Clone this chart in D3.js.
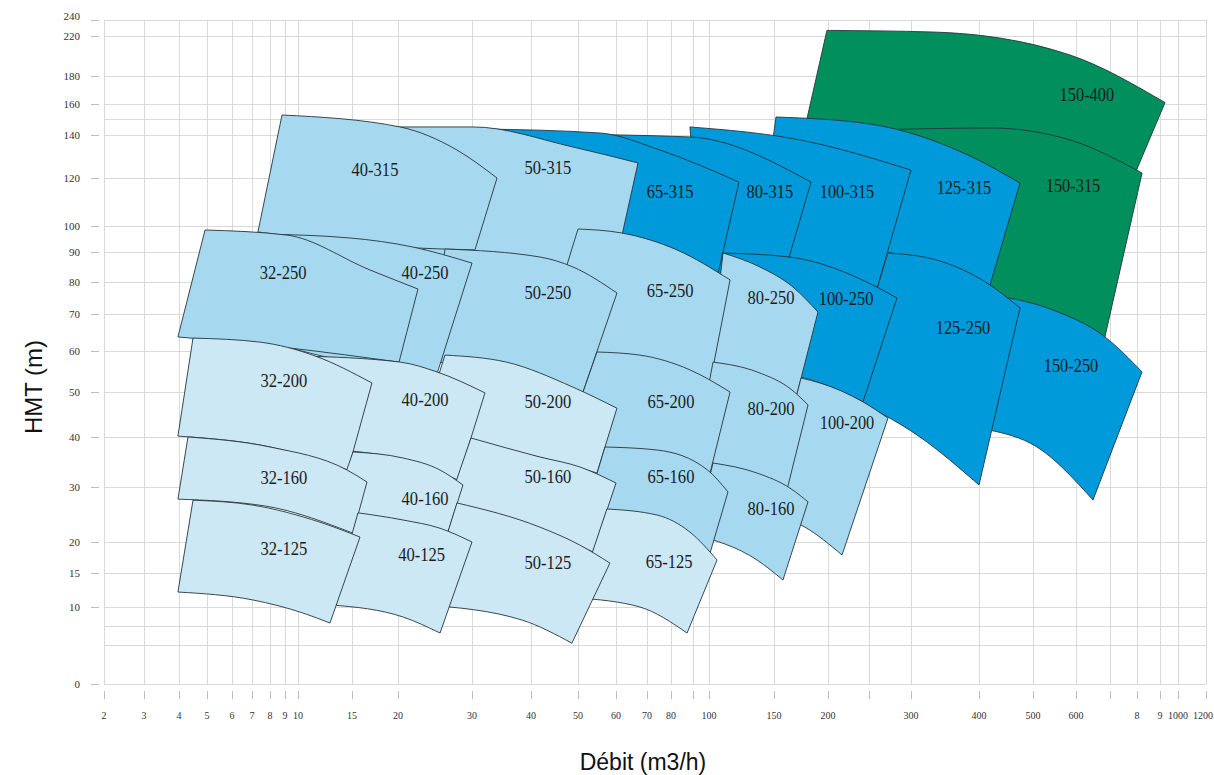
<!DOCTYPE html>
<html>
<head>
<meta charset="utf-8">
<script src="https://cdn.jsdelivr.net/npm/d3@7"></script>
<style>
  html, body { margin: 0; padding: 0; background: #ffffff; }
  svg { display: block; }
</style>
</head>
<body>
<svg id="chart" width="1214" height="775"></svg>
<script>
// ---------- axis ticks ----------
const flowTicks = [2,3,4,5,6,7,8,9,10,15,20,30,40,50,60,70,80,90,100,150,200,250,300,400,500,600,700,800,900,1000,1200];
const flowTickLabels = ["2","3","4","5","6","7","8","9","10","15","20","30","40","50","60","70","80","","100","150","200","","300","400","500","600","","8","9","1000","1200"];
const headTicks = [0,10,15,20,30,40,50,60,70,80,90,100,120,140,160,180,220,240];
const headGridExtra = [5, 7.5, 150];

// ---------- pump ranges (Q in m3/h, H in m), drawn in this order ----------
const pumpModels = [
  "150-400","150-315","125-315","100-315","80-315","65-315","50-315","40-315",
  "150-250","125-250","100-250","80-250","65-250","50-250","40-250","32-250",
  "100-200","80-200","65-200","50-200","40-200","32-200",
  "80-160","65-160","50-160","40-160","32-160",
  "65-125","50-125","40-125","32-125"
];
const pumpTier = [3,3,2,2,2,2,1,1, 2,2,2,1,1,1,1,1, 1,1,1,0,0,0, 1,1,0,0,0, 0,0,0,0];

const topCurves = [
  [[199,227],[332,225],[586,201],[928,161]],
  [[251,143.2],[422,144.5],[586,137.7],[822,122.3]],
  [[151.85,151.6],[251.2,147.1],[389.7,129.8],[475.9,117.9]],
  [[88.6,145.2],[174.1,137.7],[300,123.7]],
  [[46.2,140.5],[88.6,139.1],[184.3,118.3]],
  [[31.4,143.9],[55.8,141.3],[75.4,133],[123.1,118.3]],
  [[18.04,145.2],[30.17,145.2],[48.94,134.4],[67.1,127]],
  [[8.8,152.9],[20.27,145.2],[27.97,133],[34.24,120]],
  [[438.9,75.6],[546.5,71.25],[685.3,63.8],[821.7,54.9]],
  [[272.6,89.67],[338.2,87.3],[414.8,79.7],[475.9,71.9]],
  [[110,89.67],[164.8,88.3],[259.5,78.4],[283.3,75]],
  [[110.8,89.67],[139.2,85],[167.6,78.4],[190.7,70.6]],
  [[50,98.85],[61.9,97.3],[82.7,90.8],[116.2,80.7]],
  [[26.35,91.15],[41.9,88.33],[48.94,85],[60.32,76.56]],
  [[7.56,96.9],[14.81,95.4],[22.03,91.9],[30,86.3]],
  [[4.93,98.46],[9.15,96.5],[16.96,84],[22.7,77.8]],
  [[175,53.4],[192.6,52.2],[242.7,47.8],[272.6,44.2]],
  [[103.1,57.3],[136.9,54.9],[166.6,50.5],[181.5,47.1]],
  [[55,59.76],[67.7,59],[88.6,55.4],[116.2,50]],
  [[26.35,59],[35.8,57.3],[48.9,51.2],[60.3,46.4]],
  [[10.19,58.8],[20.27,57.3],[25.27,54.9],[32.2,49.8]],
  [[4.5,63.5],[7.44,62.4],[11.57,58.8],[17.17,52.2]],
  [[103.1,34.8],[136.9,32.8],[164.8,29.8],[181.5,27.3]],
  [[57.1,38],[74.2,37.4],[99.1,33.4],[114.6,29.1]],
  [[29.86,39.8],[41.9,36],[50.53,34],[60,30.8]],
  [[15.11,37],[20.68,35.8],[25.68,33.4],[28.78,30.4]],
  [[4.32,40],[8,38],[14.54,33.4],[16.63,31]],
  [[57.6,26],[74.2,24.9],[88.6,21.8],[106.2,17.1]],
  [[27.97,27.1],[41.9,22.7],[50.5,19.5],[58.4,16.6]],
  [[15.65,25.3],[20.68,24],[25.68,22.5],[30,20]],
  [[4.5,27.6],[7.06,26.7],[12.04,23.6],[15.87,20.9]]
];

const bottomCurves = [
  [[174,133],[357,128],[767,115]],
  [[372,78.1],[516,70.6],[683,63]],
  [[139.2,96.5],[263,90.8],[416.7,76.9]],
  [[94.4,90.8],[164.8,86.7],[257,75.6]],
  [[55.8,92.7],[108.5,80.7],[161.1,84.67]],
  [[55.8,94.6],[75.4,89],[106.9,82.7]],
  [[24.3,85.7],[43,82.3],[61.6,94.6]],
  [[7.33,97.7],[20.27,91.9],[30.5,90.8]],
  [[416.7,41.6],[509.3,38],[650,27.64]],
  [[220.7,49.3],[313.2,40],[400,30.4]],
  [[116.2,56.6],[192.6,52.2],[242.7,47.8]],
  [[100.8,56.6],[139.2,52.9],[170.4,48.7]],
  [[42.1,60.3],[71.25,57.3],[100.8,52.2]],
  [[24.3,57.3],[36.44,55.4],[51.32,50]],
  [[6.65,64.3],[14.81,57.3],[25.27,54.4]],
  [[3.97,63.8],[9.38,60.8],[20.14,57.3]],
  [[144.6,25.45],[178.7,22.7],[217.1,17.9]],
  [[90.6,34.8],[131.5,33],[162,29.45]],
  [[47,38],[73.3,37],[100.8,32.8]],
  [[22.7,39.4],[39.8,36.4],[55,32.8]],
  [[13.9,37.4],[20.95,35.4],[28.1,31.4]],
  [[3.97,40.2],[8,38],[14.63,33.4]],
  [[91.6,21.3],[136.9,17.1],[158.3,13.97]],
  [[52.1,25.8],[75.4,23.6],[100.8,18.2]],
  [[26.76,26.73],[38.14,23.64],[53.95,18.39]],
  [[13.15,25.45],[20.27,24],[26.76,21.8]],
  [[3.97,27.8],[7.72,26.55],[15.11,21.6]],
  [[49.8,11.32],[67.7,10],[87.3,6.62]],
  [[23.65,10.3],[38.5,8.3],[48.7,5.3]],
  [[13.15,10.29],[20.68,8.7],[25.68,6.62]],
  [[3.97,12.2],[7.06,11.03],[10.46,9.22],[12.96,7.92]]
];

const labelPoints = [
  [632,166.4],[593,116.7],[377.9,115.8],[223.2,114.2],[146.9,114.2],[79.6,114.2],[43.6,124.65],[17.5,123.7],
  [588.4,56.3],[376.5,66.2],[222,74.7],[147.7,75],[79.6,77.2],[43.6,76.6],[23.65,83],[8.87,83],
  [223.2,43.1],[147.7,46.4],[80,47.8],[43.6,47.8],[23.65,48.2],[8.93,52.7],
  [147.7,26],[80,32],[43.6,32],[23.65,27.8],[8.93,31.8],
  [79.2,16.9],[43.6,16.6],[23.2,17.9],[8.93,19]
];

// ---------- layout ----------
const W = 1214, H = 775;
// The flow and head axes of this chart are hand-graduated, so each tick gets its own stop.
const flowAxisStops = [104,144,179,207,232,252,270,285,298,352,398,472,531,578,616,647,671,693,709,774,828,869,911,979,1033,1076,1110,1137,1160,1178,1206];
const headAxisStops = [684,607,573,542,487,437,392,351,314,282,252,226,178,135,104,76,36,20];
const tierFill = ["#cbe8f4", "#a6d9f0", "#0099da", "#008f5d"];

const x = d3.scaleLinear().domain(flowTicks).range(flowAxisStops);
const y = d3.scaleLinear().domain(headTicks).range(headAxisStops);

const svg = d3.select("#chart");
svg.append("rect").attr("width", W).attr("height", H).attr("fill", "#ffffff");

const xLeft = x(flowTicks[0]), xRight = x(flowTicks[flowTicks.length - 1]);
const yBottom = y(headTicks[0]), yTop = y(headTicks[headTicks.length - 1]);

// grid
const grid = svg.append("g").attr("stroke", "#d9d9d9").attr("stroke-width", 1).attr("shape-rendering", "crispEdges");
grid.selectAll("line.v").data(flowTicks).join("line")
  .attr("x1", d => x(d)).attr("x2", d => x(d)).attr("y1", yTop).attr("y2", yBottom);
grid.selectAll("line.h").data(headTicks.concat(headGridExtra)).join("line")
  .attr("x1", xLeft).attr("x2", xRight).attr("y1", d => y(d)).attr("y2", d => y(d));

// y ticks and labels
const yAxis = svg.append("g");
yAxis.selectAll("line").data(headTicks).join("line")
  .attr("x1", 91).attr("x2", 99).attr("y1", d => y(d)).attr("y2", d => y(d))
  .attr("stroke", "#bdbdbd").attr("stroke-width", 1).attr("shape-rendering", "crispEdges");
yAxis.selectAll("text").data(headTicks).join("text")
  .attr("x", 80).attr("y", d => y(d) - (d === 240 ? 4 : 0)).attr("dy", "0.35em")
  .attr("text-anchor", "end")
  .attr("font-family", "'Liberation Serif', 'Times New Roman', serif")
  .attr("font-size", 11).attr("fill", "#333")
  .text(d => d);

// x ticks and labels (the last label is kept inside the page edge)
const xAxis = svg.append("g");
xAxis.selectAll("line").data(flowTicks).join("line")
  .attr("x1", d => x(d)).attr("x2", d => x(d)).attr("y1", 691).attr("y2", 699)
  .attr("stroke", "#bdbdbd").attr("stroke-width", 1).attr("shape-rendering", "crispEdges");
const lastFlow = flowTicks[flowTicks.length - 1];
xAxis.selectAll("text").data(flowTicks).join("text")
  .attr("x", d => d === lastFlow ? W - 1 : x(d)).attr("y", 719)
  .attr("text-anchor", d => d === lastFlow ? "end" : "middle")
  .attr("font-family", "'Liberation Serif', 'Times New Roman', serif")
  .attr("font-size", 10).attr("fill", "#333")
  .text((d, i) => flowTickLabels[i]);

// pump ranges
const curve = d3.line().x(p => x(p[0])).y(p => y(p[1])).curve(d3.curveMonotoneX);
function rangePath(i) {
  const top = curve(topCurves[i]);
  const bottom = curve(bottomCurves[i].slice().reverse());
  return top + "L" + bottom.slice(1) + "Z";
}

const ranges = svg.append("g");
ranges.selectAll("path").data(pumpModels).join("path")
  .attr("d", (d, i) => rangePath(i))
  .attr("fill", (d, i) => tierFill[pumpTier[i]])
  .attr("stroke", "#26343c").attr("stroke-width", 0.9).attr("stroke-linejoin", "round");

svg.append("g").selectAll("text").data(pumpModels).join("text")
  .attr("x", (d, i) => x(labelPoints[i][0]))
  .attr("y", (d, i) => y(labelPoints[i][1]))
  .attr("dy", "0.35em")
  .attr("text-anchor", "middle")
  .attr("font-family", "'Liberation Serif', 'Times New Roman', serif")
  .attr("font-size", 18).attr("fill", "#1b1b1b")
  .attr("textLength", d => d.length * 7.8)
  .attr("lengthAdjust", "spacingAndGlyphs")
  .text(d => d);

// axis titles
svg.append("text")
  .attr("x", 643).attr("y", 762).attr("dy", "0.35em")
  .attr("text-anchor", "middle")
  .attr("font-family", "'Liberation Sans', Arial, sans-serif")
  .attr("font-size", 23).attr("fill", "#111")
  .text("Débit (m3/h)");
svg.append("text")
  .attr("transform", "translate(34,387) rotate(-90)")
  .attr("dy", "0.35em")
  .attr("text-anchor", "middle")
  .attr("font-family", "'Liberation Sans', Arial, sans-serif")
  .attr("font-size", 24).attr("fill", "#111")
  .text("HMT (m)");
</script>
</body>
</html>
